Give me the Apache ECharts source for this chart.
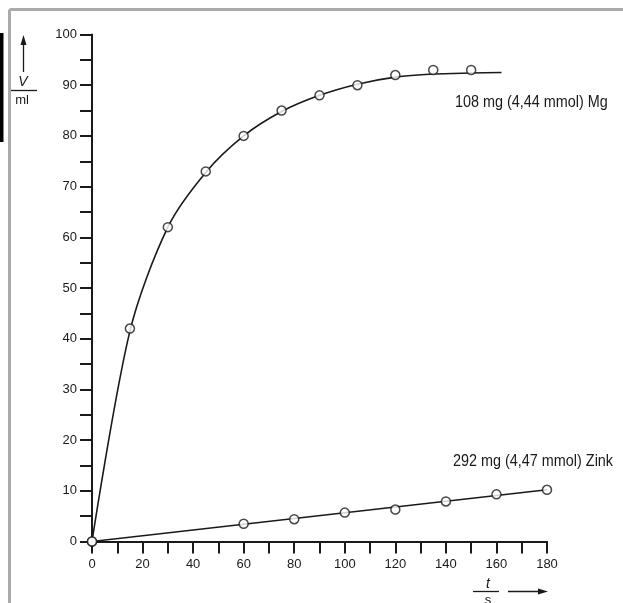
<!DOCTYPE html>
<html>
<head>
<meta charset="utf-8">
<script src="https://cdn.jsdelivr.net/npm/echarts@6/dist/echarts.min.js"></script>
<style>
  html, body { margin: 0; padding: 0; background: #fff; }
  #chart { width: 623px; height: 603px; }
</style>
</head>
<body>
<div id="chart"></div>
<script>
// measured points, t in s, V in ml
var mgPoints = [[0, 0], [15, 42], [30, 62], [45, 73], [60, 80], [75, 85], [90, 88], [105, 90], [120, 92], [135, 93], [150, 93]];
var mgCurve = [[0, 0], [15, 41.5], [30, 62], [45, 72.8], [60, 80], [75, 84.8], [90, 88], [105, 90.2], [120, 91.6], [135, 92.2], [150, 92.4], [162, 92.5]];
var znPoints = [[0, 0], [60, 3.5], [80, 4.4], [100, 5.7], [120, 6.3], [140, 7.9], [160, 9.3], [180, 10.2]];
var znCurve = [[0, 0], [180, 10.2]];

var mgLabel = '108 mg (4,44 mmol) Mg';
var znLabel = '292 mg (4,47 mmol) Zink';

var font = '"Liberation Sans", Arial, sans-serif';
var ink = '#1a1a1a';

var myChart = echarts.init(document.getElementById('chart'));

var option = {
    backgroundColor: '#fff',
    animation: false,
    grid: { left: 92, right: 76, top: 34.5, bottom: 61.5 },
    xAxis: {
        type: 'value',
        min: 0,
        max: 180,
        interval: 20,
        splitLine: { show: false },
        axisLine: { lineStyle: { color: ink, width: 2 } },
        axisTick: { length: 12, lineStyle: { color: ink, width: 2 } },
        minorTick: { show: true, splitNumber: 2, length: 12, lineStyle: { color: ink, width: 2 } },
        axisLabel: { color: ink, fontSize: 13, fontFamily: font, margin: 16 }
    },
    yAxis: {
        type: 'value',
        min: 0,
        max: 100,
        interval: 10,
        splitLine: { show: false },
        axisLine: { lineStyle: { color: ink, width: 2 } },
        axisTick: { length: 12, lineStyle: { color: ink, width: 2 } },
        minorTick: { show: true, splitNumber: 2, length: 12, lineStyle: { color: ink, width: 2 } },
        axisLabel: { color: ink, fontSize: 13, fontFamily: font, margin: 15 }
    },
    series: [
        {
            type: 'line',
            data: mgCurve,
            smooth: 0.3,
            showSymbol: false,
            lineStyle: { color: ink, width: 1.6 },
            z: 2
        },
        {
            type: 'line',
            data: znCurve,
            showSymbol: false,
            lineStyle: { color: ink, width: 1.6 },
            z: 2
        },
        {
            type: 'scatter',
            data: mgPoints,
            symbol: 'circle',
            symbolSize: 9,
            itemStyle: { color: '#fff', borderColor: ink, borderWidth: 1.5 },
            z: 3
        },
        {
            type: 'scatter',
            data: znPoints,
            symbol: 'circle',
            symbolSize: 9,
            itemStyle: { color: '#fff', borderColor: ink, borderWidth: 1.5 },
            z: 3
        }
    ],
    graphic: [
        // frame + black edge
        { type: 'rect', shape: { x: 0, y: 33, width: 3.5, height: 109 }, style: { fill: '#000' } },
        { type: 'line', shape: { x1: 9.5, y1: 9.5, x2: 623, y2: 9.5 }, style: { stroke: '#aaa', lineWidth: 3 } },
        { type: 'line', shape: { x1: 9.5, y1: 9.5, x2: 9.5, y2: 603 }, style: { stroke: '#aaa', lineWidth: 3 } },
        // y axis name V / ml with arrow
        { type: 'line', shape: { x1: 23.5, y1: 40, x2: 23.5, y2: 72 }, style: { stroke: ink, lineWidth: 1.3 } },
        { type: 'polygon', shape: { points: [[23.5, 35], [20.5, 45], [26.5, 45]] }, style: { fill: ink } },
        { type: 'text', x: 23, y: 82, style: { text: 'V', font: 'italic 14px ' + font, fill: ink, align: 'center', verticalAlign: 'middle' } },
        { type: 'line', shape: { x1: 11, y1: 90.5, x2: 37, y2: 90.5 }, style: { stroke: ink, lineWidth: 1.3 } },
        { type: 'text', x: 22, y: 100, style: { text: 'ml', font: '13px ' + font, fill: ink, align: 'center', verticalAlign: 'middle' } },
        // x axis name t / s with arrow
        { type: 'text', x: 488, y: 584, style: { text: 't', font: 'italic 14px ' + font, fill: ink, align: 'center', verticalAlign: 'middle' } },
        { type: 'line', shape: { x1: 473, y1: 591.5, x2: 499, y2: 591.5 }, style: { stroke: ink, lineWidth: 1.3 } },
        { type: 'text', x: 488, y: 600, style: { text: 's', font: '13px ' + font, fill: ink, align: 'center', verticalAlign: 'middle' } },
        { type: 'line', shape: { x1: 508, y1: 591.5, x2: 542, y2: 591.5 }, style: { stroke: ink, lineWidth: 1.3 } },
        { type: 'polygon', shape: { points: [[548, 591.5], [538, 588.5], [538, 594.5]] }, style: { fill: ink } },
        // series labels, squeezed to match the narrow lettering
        { type: 'text', x: 455, y: 103, scaleX: 0.9, style: { text: mgLabel, font: '16px ' + font, fill: ink, verticalAlign: 'middle' } },
        { type: 'text', x: 453, y: 462, scaleX: 0.9, style: { text: znLabel, font: '16px ' + font, fill: ink, verticalAlign: 'middle' } }
    ]
};

myChart.setOption(option);
</script>
</body>
</html>
